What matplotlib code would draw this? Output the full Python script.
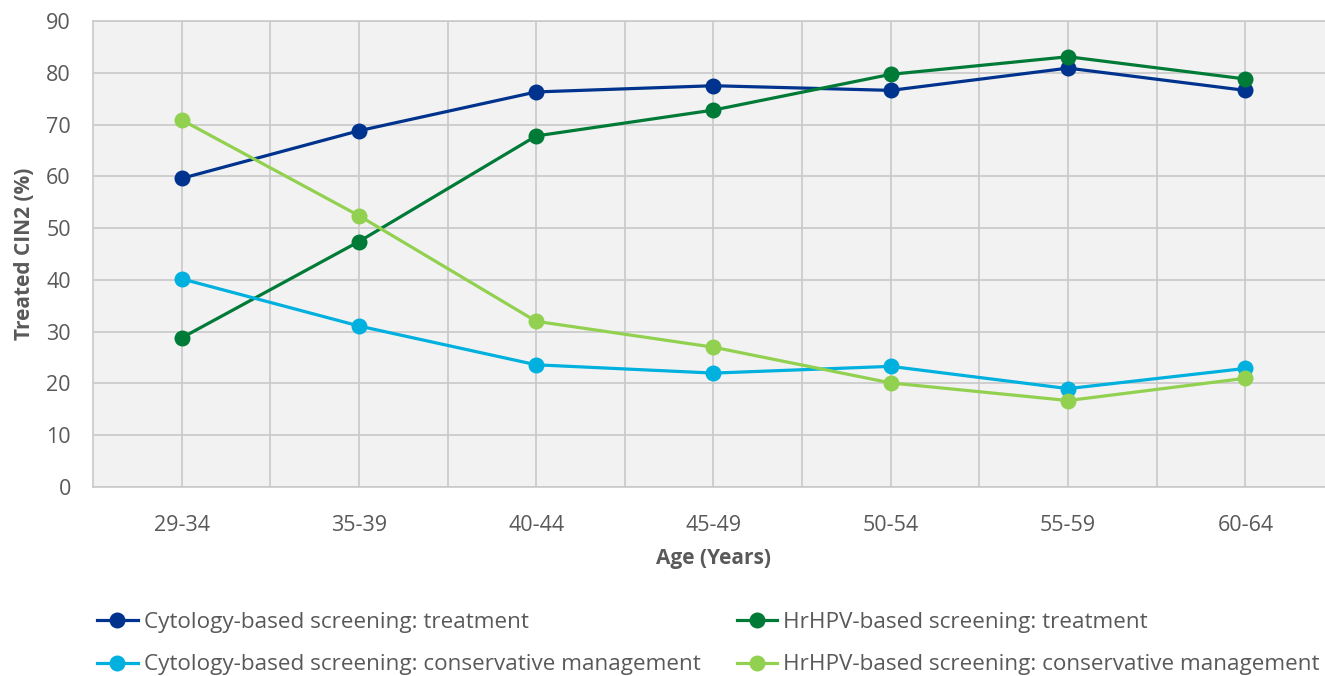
import numpy as np
import matplotlib
matplotlib.use("Agg")
import matplotlib.pyplot as plt
from matplotlib.ticker import MultipleLocator

plt.rcParams["font.family"] = ["Open Sans", "DejaVu Sans"]

# ---------------------------------------------------
# Data
# ---------------------------------------------------
age_groups = ["29-34", "35-39", "40-44", "45-49", "50-54", "55-59", "60-64"]
cyto_treat = [59.6, 68.8, 76.3, 77.5, 76.6, 80.9, 76.6]
hpv_treat = [28.8, 47.4, 67.8, 72.8, 79.7, 83.1, 78.8]
cyto_cons = [40.2, 31.1, 23.6, 22.0, 23.3, 19.0, 22.9]
hpv_cons = [70.9, 52.4, 32.0, 27.0, 20.1, 16.7, 21.0]

series = [
    (cyto_treat, "#00338d", "Cytology-based screening: treatment"),
    (hpv_treat, "#007a37", "HrHPV-based screening: treatment"),
    (cyto_cons, "#00b0de", "Cytology-based screening: conservative management"),
    (hpv_cons, "#92d050", "HrHPV-based screening: conservative management"),
]

W, H = 1325, 676
fig = plt.figure(figsize=(W / 100, H / 100), dpi=100)
ax = fig.add_axes([93 / W, 1 - 487 / H, (1334 - 93) / W, (487 - 21) / H])
ax.set_facecolor("#f2f2f2")

x = np.arange(len(age_groups))
handles = []
for vals, color, label in series:
    (ln,) = ax.plot(x, vals, "-o", color=color, lw=2.3, markersize=11.5,
                    markeredgewidth=0, label=label, zorder=3)
    handles.append(ln)

ax.set_xlim(-0.5, len(age_groups) - 0.5)
ax.set_ylim(0, 90)
ax.set_xticks(x)
ax.set_xticklabels(age_groups)
ax.set_xticks(x[:-1] + 0.5, minor=True)
ax.yaxis.set_major_locator(MultipleLocator(10))

grid_c = "#c9c9c9"
ax.grid(True, which="major", axis="both", color=grid_c, lw=1.2, zorder=0)
ax.grid(True, which="minor", axis="x", color=grid_c, lw=1.2, zorder=0)
ax.set_axisbelow(True)
for side in ["left", "bottom", "top"]:
    ax.spines[side].set_color(grid_c)
    ax.spines[side].set_linewidth(1.2)
ax.spines["right"].set_visible(False)

ax.tick_params(which="both", length=0, labelsize=15.5, colors="#595959")
ax.tick_params(axis="x", pad=20)
ax.tick_params(axis="y", pad=16)

ax.set_xlabel("Age (Years)", fontsize=15, fontweight="bold", color="#595959", labelpad=9)
ax.set_ylabel("Treated CIN2 (%)", fontsize=15, fontweight="bold", color="#595959", labelpad=8)

# legend: column-major order gives cyto rows on left, HPV on right
order = [0, 2, 1, 3]
fig.legend([handles[i] for i in order], [series[i][2] for i in order],
           loc="upper left", bbox_to_anchor=(97 / W, 1 - 612 / H), ncol=2,
           frameon=False, fontsize=16.2, labelcolor="#595959", borderpad=0,
           borderaxespad=0, handlelength=1.8, handletextpad=0.28,
           columnspacing=1.6, labelspacing=0.95)

fig.savefig("out.png", dpi=100)
